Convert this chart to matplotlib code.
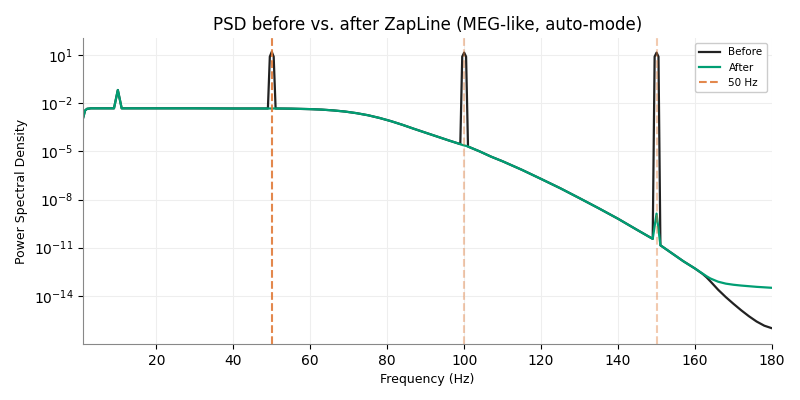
import numpy as np
import matplotlib
matplotlib.use("Agg")
import matplotlib.pyplot as plt

# frequency grid (Hz) and log10 PSD values
freqs = [1, 1.5, 2, 3, 5, 8, 9, 10, 11, 12, 20, 30, 40, 45,
         49, 49.5, 50, 50.5, 51, 55, 60, 63, 66, 69, 72, 75, 78, 81, 84, 87,
         90, 93, 96, 99, 99.5, 100, 100.5, 101, 104, 107, 110, 115, 120, 125,
         130, 135, 140, 145, 149, 149.5, 150, 150.5, 151, 154, 157, 160, 162,
         163, 164, 166, 168, 170, 172, 174, 176, 178, 180]

after_log = [-2.9, -2.45, -2.35, -2.32, -2.32, -2.32, -2.32, -1.18, -2.32, -2.32,
             -2.32, -2.32, -2.33, -2.33,
             -2.33, -2.33, -2.33, -2.33, -2.33, -2.34, -2.37, -2.40, -2.45, -2.52,
             -2.62, -2.75, -2.92, -3.12, -3.35, -3.60,
             -3.84, -4.08, -4.32, -4.55, -4.60, -4.63, -4.66, -4.70, -5.00, -5.33,
             -5.62, -6.15, -6.72, -7.30,
             -7.92, -8.55, -9.20, -9.90, -10.45, -9.66, -8.875, -9.85, -10.85,
             -11.35, -11.85, -12.30, -12.62,
             -12.78, -12.92, -13.12, -13.24, -13.31, -13.36, -13.40, -13.44, -13.47, -13.50]

before_log = [-2.9, -2.45, -2.35, -2.32, -2.32, -2.32, -2.32, -1.18, -2.32, -2.32,
              -2.32, -2.32, -2.33, -2.33,
              -2.33, 0.9, 1.2, 0.9, -2.33, -2.34, -2.37, -2.40, -2.45, -2.52,
              -2.62, -2.75, -2.92, -3.12, -3.35, -3.60,
              -3.84, -4.08, -4.32, -4.55, 0.9, 1.15, 0.9, -4.70, -5.00, -5.33,
              -5.62, -6.15, -6.72, -7.30,
              -7.92, -8.55, -9.20, -9.90, -10.45, 0.9, 1.15, 0.9, -10.85,
              -11.35, -11.85, -12.30, -12.64,
              -12.85, -13.10, -13.62, -14.08, -14.50, -14.90, -15.27, -15.60, -15.86, -16.02]

line_freqs = [50, 100, 150]

f = np.array(freqs)
psd_before = 10.0 ** np.array(before_log)
psd_after = 10.0 ** np.array(after_log)

fig = plt.figure(figsize=(8, 4), dpi=100)
ax = fig.add_axes([0.104, 0.14, 0.861, 0.765])

ax.semilogy(f, psd_before, color="#222222", lw=1.6, label="Before")
ax.semilogy(f, psd_after, color="#009e73", lw=1.6, label="After")
for i, lf in enumerate(line_freqs):
    ax.axvline(lf, color="#e07b39", ls="--", lw=1.5,
               alpha=0.9 if i == 0 else 0.4,
               label="50 Hz" if i == 0 else None)

ax.set_xlim(1, 180)
ax.set_ylim(1e-17, 1.15e2)
ax.set_yticks([1e1, 1e-2, 1e-5, 1e-8, 1e-11, 1e-14])
ax.yaxis.set_minor_locator(matplotlib.ticker.NullLocator())
ax.set_xticks([20, 40, 60, 80, 100, 120, 140, 160, 180])

ax.grid(True, color="#eeeeee", lw=0.8)
ax.set_axisbelow(True)
for s in ["top", "right"]:
    ax.spines[s].set_visible(False)
for s in ["left", "bottom"]:
    ax.spines[s].set_color("#888888")

ax.set_title("PSD before vs. after ZapLine (MEG-like, auto-mode)", fontsize=12)
ax.set_xlabel("Frequency (Hz)", fontsize=9)
ax.set_ylabel("Power Spectral Density", fontsize=9)
ax.legend(loc="upper right", fontsize=7.5, framealpha=1)

fig.savefig("out.png", dpi=100)
